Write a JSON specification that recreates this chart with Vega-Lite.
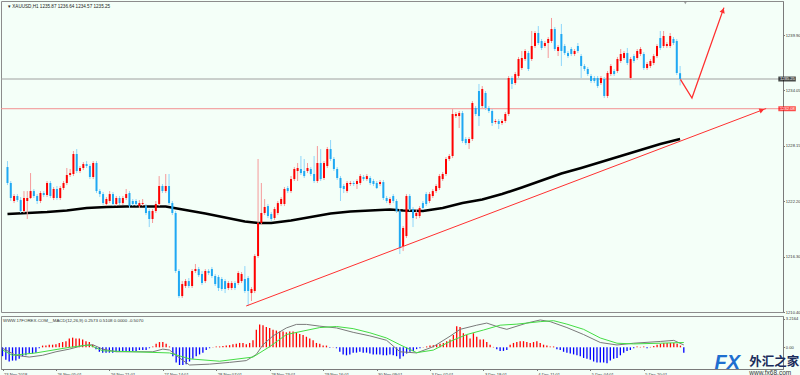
{
"$schema": "https://vega.github.io/schema/vega-lite/v6.json",
"background": "#f4fff8",
"padding": 0,
"spacing": 0,
"resolve": {"scale": {"color": "independent"}},
"config": {
 "view": {"stroke": "#8c8c8c", "strokeWidth": 1},
 "axis": {"labelFont": "Liberation Sans", "labelFontSize": 4.2, "labelColor": "#333333", "domainColor": "#7a7a7a", "tickColor": "#7a7a7a", "tickSize": 1.5, "grid": false, "title": null, "labelPadding": 0.8, "labelOverlap": false, "labelFlush": false}
},
"datasets": {
 "candles": [
{"i":0,"o":1225.86,"h":1226.50,"l":1223.94,"c":1224.16},
{"i":1,"o":1224.16,"h":1224.37,"l":1222.24,"c":1222.56},
{"i":2,"o":1222.24,"h":1222.98,"l":1222.02,"c":1222.77},
{"i":3,"o":1222.77,"h":1222.98,"l":1222.13,"c":1222.34},
{"i":4,"o":1222.34,"h":1222.66,"l":1220.96,"c":1221.17},
{"i":5,"o":1221.17,"h":1223.30,"l":1220.96,"c":1222.56},
{"i":6,"o":1222.24,"h":1223.30,"l":1220.32,"c":1222.56},
{"i":7,"o":1222.56,"h":1225.22,"l":1222.45,"c":1223.30},
{"i":8,"o":1223.30,"h":1223.52,"l":1222.56,"c":1222.77},
{"i":9,"o":1222.77,"h":1222.98,"l":1221.92,"c":1222.24},
{"i":10,"o":1222.24,"h":1223.30,"l":1222.02,"c":1223.09},
{"i":11,"o":1223.09,"h":1223.30,"l":1222.66,"c":1222.88},
{"i":12,"o":1222.88,"h":1224.37,"l":1222.66,"c":1224.16},
{"i":13,"o":1224.16,"h":1224.37,"l":1222.56,"c":1222.77},
{"i":14,"o":1222.56,"h":1223.73,"l":1222.34,"c":1223.52},
{"i":15,"o":1223.52,"h":1223.84,"l":1222.34,"c":1222.56},
{"i":16,"o":1222.56,"h":1223.84,"l":1222.34,"c":1223.62},
{"i":17,"o":1223.62,"h":1224.37,"l":1223.41,"c":1224.16},
{"i":18,"o":1224.16,"h":1225.76,"l":1223.94,"c":1225.01},
{"i":19,"o":1225.01,"h":1225.65,"l":1224.80,"c":1225.22},
{"i":20,"o":1225.12,"h":1227.57,"l":1224.90,"c":1227.25},
{"i":21,"o":1227.25,"h":1227.78,"l":1225.22,"c":1225.44},
{"i":22,"o":1225.44,"h":1225.97,"l":1225.22,"c":1225.76},
{"i":23,"o":1225.76,"h":1226.40,"l":1225.54,"c":1226.18},
{"i":24,"o":1226.18,"h":1226.50,"l":1225.76,"c":1225.97},
{"i":25,"o":1225.97,"h":1226.18,"l":1224.58,"c":1224.80},
{"i":26,"o":1224.80,"h":1226.50,"l":1224.58,"c":1226.29},
{"i":27,"o":1226.29,"h":1226.50,"l":1223.09,"c":1223.30},
{"i":28,"o":1223.30,"h":1223.52,"l":1222.66,"c":1222.98},
{"i":29,"o":1222.98,"h":1223.20,"l":1221.81,"c":1222.02},
{"i":30,"o":1221.92,"h":1222.66,"l":1221.70,"c":1222.45},
{"i":31,"o":1222.24,"h":1223.30,"l":1222.02,"c":1222.98},
{"i":32,"o":1222.98,"h":1223.20,"l":1221.70,"c":1221.92},
{"i":33,"o":1221.92,"h":1222.77,"l":1221.70,"c":1222.56},
{"i":34,"o":1222.56,"h":1222.77,"l":1221.81,"c":1222.02},
{"i":35,"o":1222.02,"h":1222.77,"l":1221.81,"c":1222.56},
{"i":36,"o":1222.56,"h":1223.52,"l":1222.34,"c":1222.98},
{"i":37,"o":1223.09,"h":1223.30,"l":1221.49,"c":1221.70},
{"i":38,"o":1222.24,"h":1222.45,"l":1221.70,"c":1221.92},
{"i":39,"o":1222.24,"h":1222.45,"l":1221.70,"c":1221.92},
{"i":40,"o":1221.70,"h":1222.34,"l":1221.49,"c":1222.02},
{"i":41,"o":1221.92,"h":1222.45,"l":1221.70,"c":1222.02},
{"i":42,"o":1221.70,"h":1221.92,"l":1220.74,"c":1220.96},
{"i":43,"o":1221.17,"h":1221.38,"l":1219.46,"c":1220.32},
{"i":44,"o":1220.32,"h":1221.38,"l":1219.89,"c":1221.17},
{"i":45,"o":1221.17,"h":1222.24,"l":1220.96,"c":1221.92},
{"i":46,"o":1221.92,"h":1224.90,"l":1221.70,"c":1223.84},
{"i":47,"o":1223.84,"h":1224.05,"l":1223.09,"c":1223.30},
{"i":48,"o":1223.30,"h":1225.12,"l":1223.09,"c":1223.84},
{"i":49,"o":1223.84,"h":1225.12,"l":1221.81,"c":1222.02},
{"i":50,"o":1222.02,"h":1222.24,"l":1220.74,"c":1220.96},
{"i":51,"o":1220.96,"h":1221.17,"l":1214.56,"c":1214.77},
{"i":52,"o":1214.77,"h":1214.98,"l":1211.89,"c":1212.10},
{"i":53,"o":1212.10,"h":1213.70,"l":1211.89,"c":1213.38},
{"i":54,"o":1213.17,"h":1213.92,"l":1212.96,"c":1213.70},
{"i":55,"o":1213.70,"h":1214.02,"l":1212.96,"c":1213.17},
{"i":56,"o":1213.17,"h":1214.98,"l":1212.96,"c":1214.77},
{"i":57,"o":1214.77,"h":1215.52,"l":1214.56,"c":1214.98},
{"i":58,"o":1214.98,"h":1215.20,"l":1214.13,"c":1214.34},
{"i":59,"o":1214.45,"h":1214.77,"l":1213.28,"c":1213.49},
{"i":60,"o":1213.70,"h":1214.98,"l":1213.49,"c":1214.77},
{"i":61,"o":1214.77,"h":1214.98,"l":1214.34,"c":1214.56},
{"i":62,"o":1214.98,"h":1215.20,"l":1214.02,"c":1214.24},
{"i":63,"o":1214.24,"h":1214.45,"l":1213.17,"c":1213.38},
{"i":64,"o":1214.13,"h":1214.34,"l":1212.64,"c":1212.96},
{"i":65,"o":1213.92,"h":1214.13,"l":1212.64,"c":1212.85},
{"i":66,"o":1213.70,"h":1213.92,"l":1212.42,"c":1212.85},
{"i":67,"o":1212.96,"h":1213.70,"l":1212.74,"c":1213.49},
{"i":68,"o":1212.96,"h":1213.70,"l":1212.74,"c":1213.49},
{"i":69,"o":1213.49,"h":1213.70,"l":1212.74,"c":1212.96},
{"i":70,"o":1213.49,"h":1214.77,"l":1213.28,"c":1214.56},
{"i":71,"o":1213.70,"h":1214.66,"l":1213.49,"c":1214.45},
{"i":72,"o":1213.92,"h":1215.30,"l":1212.42,"c":1212.64},
{"i":73,"o":1214.02,"h":1214.24,"l":1211.04,"c":1212.64},
{"i":74,"o":1212.42,"h":1213.06,"l":1211.57,"c":1212.85},
{"i":75,"o":1212.64,"h":1216.58,"l":1212.42,"c":1216.37},
{"i":76,"o":1216.37,"h":1226.72,"l":1216.16,"c":1219.89},
{"i":77,"o":1219.89,"h":1224.16,"l":1219.68,"c":1220.96},
{"i":78,"o":1220.96,"h":1222.45,"l":1220.74,"c":1221.60},
{"i":79,"o":1221.70,"h":1221.92,"l":1220.42,"c":1220.64},
{"i":80,"o":1220.85,"h":1221.06,"l":1220.10,"c":1220.32},
{"i":81,"o":1220.42,"h":1221.60,"l":1220.21,"c":1221.38},
{"i":82,"o":1220.96,"h":1222.24,"l":1220.74,"c":1222.02},
{"i":83,"o":1221.92,"h":1222.66,"l":1221.70,"c":1222.45},
{"i":84,"o":1221.92,"h":1223.73,"l":1221.70,"c":1223.52},
{"i":85,"o":1223.62,"h":1223.84,"l":1223.09,"c":1223.30},
{"i":86,"o":1223.30,"h":1224.90,"l":1223.09,"c":1224.58},
{"i":87,"o":1224.58,"h":1225.86,"l":1224.37,"c":1225.65},
{"i":88,"o":1225.44,"h":1226.29,"l":1224.37,"c":1225.76},
{"i":89,"o":1225.65,"h":1227.04,"l":1225.01,"c":1225.22},
{"i":90,"o":1225.44,"h":1226.72,"l":1224.69,"c":1224.90},
{"i":91,"o":1225.44,"h":1226.29,"l":1225.22,"c":1225.76},
{"i":92,"o":1225.65,"h":1225.86,"l":1224.90,"c":1225.12},
{"i":93,"o":1225.12,"h":1227.04,"l":1224.16,"c":1224.37},
{"i":94,"o":1224.37,"h":1228.10,"l":1224.16,"c":1226.29},
{"i":95,"o":1226.29,"h":1227.78,"l":1224.37,"c":1224.58},
{"i":96,"o":1224.69,"h":1226.50,"l":1224.48,"c":1226.29},
{"i":97,"o":1225.97,"h":1228.00,"l":1225.76,"c":1227.78},
{"i":98,"o":1227.78,"h":1228.74,"l":1226.50,"c":1226.72},
{"i":99,"o":1226.72,"h":1226.93,"l":1225.44,"c":1225.65},
{"i":100,"o":1225.65,"h":1225.86,"l":1224.48,"c":1224.69},
{"i":101,"o":1224.69,"h":1224.90,"l":1222.24,"c":1223.62},
{"i":102,"o":1223.84,"h":1224.05,"l":1223.09,"c":1223.52},
{"i":103,"o":1223.30,"h":1224.37,"l":1223.09,"c":1224.16},
{"i":104,"o":1224.05,"h":1224.37,"l":1223.84,"c":1224.16},
{"i":105,"o":1224.16,"h":1224.37,"l":1223.84,"c":1224.05},
{"i":106,"o":1224.05,"h":1224.58,"l":1223.52,"c":1224.37},
{"i":107,"o":1224.16,"h":1225.12,"l":1223.94,"c":1224.90},
{"i":108,"o":1224.80,"h":1225.01,"l":1224.37,"c":1224.58},
{"i":109,"o":1224.58,"h":1225.12,"l":1224.37,"c":1224.90},
{"i":110,"o":1224.69,"h":1224.90,"l":1223.94,"c":1224.16},
{"i":111,"o":1224.37,"h":1224.58,"l":1223.84,"c":1224.05},
{"i":112,"o":1224.16,"h":1224.37,"l":1223.52,"c":1223.62},
{"i":113,"o":1224.05,"h":1224.48,"l":1223.84,"c":1224.26},
{"i":114,"o":1224.26,"h":1224.48,"l":1222.34,"c":1222.56},
{"i":115,"o":1222.56,"h":1222.77,"l":1222.02,"c":1222.24},
{"i":116,"o":1222.02,"h":1222.66,"l":1221.81,"c":1222.45},
{"i":117,"o":1222.77,"h":1222.98,"l":1222.02,"c":1222.24},
{"i":118,"o":1222.24,"h":1222.45,"l":1220.96,"c":1221.17},
{"i":119,"o":1221.17,"h":1221.38,"l":1216.58,"c":1217.22},
{"i":120,"o":1217.44,"h":1219.57,"l":1216.90,"c":1219.36},
{"i":121,"o":1218.50,"h":1222.98,"l":1218.29,"c":1222.77},
{"i":122,"o":1222.77,"h":1222.98,"l":1221.17,"c":1221.38},
{"i":123,"o":1221.38,"h":1221.60,"l":1219.46,"c":1220.42},
{"i":124,"o":1220.64,"h":1221.38,"l":1220.32,"c":1220.96},
{"i":125,"o":1220.64,"h":1221.70,"l":1220.42,"c":1221.49},
{"i":126,"o":1222.02,"h":1222.24,"l":1221.28,"c":1221.49},
{"i":127,"o":1222.98,"h":1223.20,"l":1221.70,"c":1221.92},
{"i":128,"o":1222.24,"h":1223.20,"l":1222.02,"c":1222.98},
{"i":129,"o":1222.77,"h":1223.52,"l":1222.56,"c":1223.30},
{"i":130,"o":1223.30,"h":1224.05,"l":1223.09,"c":1223.84},
{"i":131,"o":1223.62,"h":1225.12,"l":1223.41,"c":1224.90},
{"i":132,"o":1224.58,"h":1225.33,"l":1224.37,"c":1225.12},
{"i":133,"o":1225.12,"h":1226.93,"l":1224.90,"c":1226.72},
{"i":134,"o":1226.72,"h":1227.25,"l":1226.50,"c":1227.04},
{"i":135,"o":1227.04,"h":1232.05,"l":1226.82,"c":1231.52},
{"i":136,"o":1231.30,"h":1231.73,"l":1231.09,"c":1231.52},
{"i":137,"o":1231.30,"h":1231.84,"l":1230.02,"c":1231.62},
{"i":138,"o":1231.62,"h":1231.84,"l":1228.42,"c":1228.64},
{"i":139,"o":1228.85,"h":1229.06,"l":1228.21,"c":1228.42},
{"i":140,"o":1228.42,"h":1229.06,"l":1227.78,"c":1228.85},
{"i":141,"o":1228.85,"h":1232.90,"l":1228.64,"c":1232.69},
{"i":142,"o":1232.16,"h":1232.37,"l":1231.30,"c":1231.52},
{"i":143,"o":1233.97,"h":1234.72,"l":1230.24,"c":1231.30},
{"i":144,"o":1232.37,"h":1234.50,"l":1232.16,"c":1234.18},
{"i":145,"o":1233.76,"h":1233.97,"l":1231.94,"c":1232.16},
{"i":146,"o":1232.16,"h":1232.37,"l":1231.62,"c":1231.84},
{"i":147,"o":1231.84,"h":1232.05,"l":1230.24,"c":1230.56},
{"i":148,"o":1230.66,"h":1230.98,"l":1230.45,"c":1230.77},
{"i":149,"o":1230.77,"h":1230.98,"l":1229.92,"c":1230.45},
{"i":150,"o":1230.56,"h":1230.98,"l":1230.34,"c":1230.77},
{"i":151,"o":1230.77,"h":1231.73,"l":1230.56,"c":1231.52},
{"i":152,"o":1231.52,"h":1235.57,"l":1231.30,"c":1235.36},
{"i":153,"o":1235.36,"h":1235.57,"l":1234.18,"c":1234.72},
{"i":154,"o":1234.82,"h":1236.00,"l":1234.61,"c":1235.78},
{"i":155,"o":1235.57,"h":1237.60,"l":1235.36,"c":1237.38},
{"i":156,"o":1236.42,"h":1238.24,"l":1236.21,"c":1237.49},
{"i":157,"o":1237.38,"h":1238.45,"l":1237.17,"c":1238.24},
{"i":158,"o":1238.02,"h":1238.24,"l":1236.10,"c":1236.32},
{"i":159,"o":1237.38,"h":1240.37,"l":1237.17,"c":1238.77},
{"i":160,"o":1238.77,"h":1240.37,"l":1238.56,"c":1240.16},
{"i":161,"o":1240.16,"h":1240.90,"l":1238.88,"c":1239.09},
{"i":162,"o":1239.30,"h":1239.52,"l":1238.34,"c":1238.56},
{"i":163,"o":1238.77,"h":1239.30,"l":1238.56,"c":1239.09},
{"i":164,"o":1239.09,"h":1239.73,"l":1237.49,"c":1239.52},
{"i":165,"o":1239.30,"h":1241.76,"l":1239.09,"c":1240.58},
{"i":166,"o":1240.58,"h":1240.80,"l":1238.24,"c":1238.45},
{"i":167,"o":1238.24,"h":1238.88,"l":1237.70,"c":1238.66},
{"i":168,"o":1240.05,"h":1241.12,"l":1236.64,"c":1238.24},
{"i":169,"o":1238.77,"h":1238.98,"l":1237.81,"c":1238.02},
{"i":170,"o":1238.02,"h":1238.24,"l":1237.49,"c":1237.70},
{"i":171,"o":1238.45,"h":1238.66,"l":1237.70,"c":1237.92},
{"i":172,"o":1237.92,"h":1238.45,"l":1237.70,"c":1238.24},
{"i":173,"o":1238.77,"h":1239.09,"l":1238.02,"c":1238.24},
{"i":174,"o":1237.70,"h":1237.92,"l":1235.36,"c":1236.64},
{"i":175,"o":1236.64,"h":1236.85,"l":1236.10,"c":1236.32},
{"i":176,"o":1236.32,"h":1236.53,"l":1235.57,"c":1235.78},
{"i":177,"o":1235.57,"h":1235.78,"l":1234.82,"c":1235.04},
{"i":178,"o":1235.36,"h":1235.57,"l":1234.82,"c":1235.04},
{"i":179,"o":1235.36,"h":1235.57,"l":1234.29,"c":1234.50},
{"i":180,"o":1234.82,"h":1235.57,"l":1234.61,"c":1235.36},
{"i":181,"o":1235.25,"h":1235.46,"l":1233.22,"c":1233.44},
{"i":182,"o":1233.44,"h":1236.10,"l":1233.22,"c":1235.89},
{"i":183,"o":1235.78,"h":1236.85,"l":1235.57,"c":1236.64},
{"i":184,"o":1236.10,"h":1236.32,"l":1235.57,"c":1235.78},
{"i":185,"o":1236.10,"h":1237.60,"l":1235.89,"c":1237.38},
{"i":186,"o":1237.17,"h":1238.45,"l":1236.96,"c":1237.92},
{"i":187,"o":1237.49,"h":1238.24,"l":1237.28,"c":1238.02},
{"i":188,"o":1238.02,"h":1238.56,"l":1236.74,"c":1236.96},
{"i":189,"o":1235.36,"h":1237.60,"l":1235.14,"c":1237.38},
{"i":190,"o":1237.70,"h":1237.92,"l":1236.96,"c":1237.17},
{"i":191,"o":1237.49,"h":1238.45,"l":1237.28,"c":1238.24},
{"i":192,"o":1237.92,"h":1238.66,"l":1237.70,"c":1238.45},
{"i":193,"o":1237.92,"h":1238.13,"l":1236.21,"c":1236.42},
{"i":194,"o":1236.42,"h":1237.06,"l":1236.21,"c":1236.85},
{"i":195,"o":1236.64,"h":1237.38,"l":1236.42,"c":1237.17},
{"i":196,"o":1236.96,"h":1237.92,"l":1236.74,"c":1237.70},
{"i":197,"o":1237.70,"h":1238.98,"l":1237.49,"c":1238.77},
{"i":198,"o":1239.62,"h":1240.37,"l":1238.34,"c":1238.56},
{"i":199,"o":1238.77,"h":1240.37,"l":1238.56,"c":1239.84},
{"i":200,"o":1238.77,"h":1239.20,"l":1238.56,"c":1238.98},
{"i":201,"o":1238.77,"h":1240.16,"l":1238.56,"c":1239.84},
{"i":202,"o":1239.52,"h":1239.73,"l":1238.88,"c":1239.09},
{"i":203,"o":1239.30,"h":1239.52,"l":1235.68,"c":1235.89},
{"i":204,"o":1235.87,"h":1236.64,"l":1234.57,"c":1235.25}
 ],
 "ma": [
{"i":0,"v":1220.85},{"i":6,"v":1220.96},{"i":12,"v":1221.06},{"i":18,"v":1221.22},{"i":24,"v":1221.49},{"i":30,"v":1221.60},{"i":36,"v":1221.65},{"i":42,"v":1221.65},{"i":48,"v":1221.65},{"i":54,"v":1221.28},{"i":60,"v":1220.90},{"i":66,"v":1220.48},{"i":72,"v":1220.05},{"i":76,"v":1219.89},{"i":80,"v":1219.89},{"i":86,"v":1220.16},{"i":92,"v":1220.53},{"i":98,"v":1220.90},{"i":104,"v":1221.12},{"i":110,"v":1221.22},{"i":116,"v":1221.33},{"i":120,"v":1221.22},{"i":126,"v":1221.17},{"i":132,"v":1221.49},{"i":138,"v":1222.02},{"i":144,"v":1222.40},{"i":150,"v":1222.98},{"i":156,"v":1223.68},{"i":162,"v":1224.42},{"i":168,"v":1225.17},{"i":174,"v":1225.76},{"i":180,"v":1226.40},{"i":186,"v":1227.04},{"i":192,"v":1227.68},{"i":198,"v":1228.32},{"i":204,"v":1228.85}
 ],
 "levels": [
{"p":1235.25,"lab":"1235.25","k":"bid"},
{"p":1232.08,"lab":"1232.08","k":"line"}
 ],
 "trend": [{"i":72.4,"p":1211.04},{"i":230.1,"p":1232.10}],
 "forecast": [{"i":204.1,"p":1235.22},{"i":207.6,"p":1233.22},{"i":217.3,"p":1242.86}],
 "arrows": [{"i":228.8,"p":1231.93,"a":69.4},{"i":217.0,"p":1242.56,"a":19.7}],
 "hist": [
{"i":0,"v":-1.0},{"i":1,"v":-1.4},{"i":2,"v":-1.6},{"i":3,"v":-1.5},{"i":4,"v":-1.5},{"i":5,"v":-1.3},{"i":6,"v":-1.0},{"i":7,"v":-0.9},{"i":8,"v":-0.7},{"i":9,"v":-0.7},{"i":10,"v":-0.6},{"i":11,"v":-0.1},{"i":12,"v":0.2},{"i":13,"v":0.2},{"i":14,"v":0.3},{"i":15,"v":0.3},{"i":16,"v":0.35},{"i":17,"v":0.5},{"i":18,"v":0.6},{"i":19,"v":0.7},{"i":20,"v":1.0},{"i":21,"v":1.1},{"i":22,"v":1.0},{"i":23,"v":1.0},{"i":24,"v":0.9},{"i":25,"v":0.7},{"i":26,"v":0.6},{"i":27,"v":0.3},{"i":28,"v":-0.2},{"i":29,"v":-0.5},{"i":30,"v":-0.6},{"i":31,"v":-0.6},{"i":32,"v":-0.6},{"i":33,"v":-0.6},{"i":34,"v":-0.5},{"i":35,"v":-0.5},{"i":36,"v":-0.4},{"i":37,"v":-0.5},{"i":38,"v":-0.5},{"i":39,"v":-0.4},{"i":40,"v":-0.4},{"i":41,"v":-0.3},{"i":42,"v":-0.3},{"i":43,"v":-0.3},{"i":44,"v":-0.1},{"i":45,"v":0.1},{"i":46,"v":0.4},{"i":47,"v":0.6},{"i":48,"v":0.6},{"i":49,"v":0.4},{"i":50,"v":0.1},{"i":51,"v":-1.0},{"i":52,"v":-1.7},{"i":53,"v":-2.0},{"i":54,"v":-2.0},{"i":55,"v":-1.9},{"i":56,"v":-1.6},{"i":57,"v":-1.3},{"i":58,"v":-1.0},{"i":59,"v":-0.8},{"i":60,"v":-0.6},{"i":61,"v":-0.3},{"i":62,"v":-0.1},{"i":63,"v":0.05},{"i":64,"v":0.1},{"i":65,"v":0.1},{"i":66,"v":0.15},{"i":67,"v":0.2},{"i":68,"v":0.25},{"i":69,"v":0.35},{"i":70,"v":0.4},{"i":71,"v":0.5},{"i":72,"v":0.5},{"i":73,"v":0.35},{"i":74,"v":0.5},{"i":75,"v":0.8},{"i":76,"v":2.0},{"i":77,"v":2.6},{"i":78,"v":2.5},{"i":79,"v":2.3},{"i":80,"v":2.2},{"i":81,"v":2.0},{"i":82,"v":1.9},{"i":83,"v":1.8},{"i":84,"v":1.8},{"i":85,"v":1.7},{"i":86,"v":1.8},{"i":87,"v":1.8},{"i":88,"v":1.7},{"i":89,"v":1.5},{"i":90,"v":1.4},{"i":91,"v":1.2},{"i":92,"v":1.0},{"i":93,"v":0.8},{"i":94,"v":0.5},{"i":95,"v":0.4},{"i":96,"v":0.2},{"i":97,"v":0.2},{"i":98,"v":-0.05},{"i":99,"v":0.05},{"i":100,"v":-0.1},{"i":101,"v":-0.5},{"i":102,"v":-0.8},{"i":103,"v":-0.9},{"i":104,"v":-0.8},{"i":105,"v":-0.6},{"i":106,"v":-0.6},{"i":107,"v":-0.5},{"i":108,"v":-0.6},{"i":109,"v":-0.6},{"i":110,"v":-0.7},{"i":111,"v":-0.8},{"i":112,"v":-0.8},{"i":113,"v":-0.8},{"i":114,"v":-0.9},{"i":115,"v":-0.9},{"i":116,"v":-0.8},{"i":117,"v":-0.9},{"i":118,"v":-1.0},{"i":119,"v":-1.3},{"i":120,"v":-1.0},{"i":121,"v":-0.7},{"i":122,"v":-0.5},{"i":123,"v":-0.4},{"i":124,"v":-0.2},{"i":125,"v":-0.1},{"i":126,"v":0.05},{"i":127,"v":0.1},{"i":128,"v":0.2},{"i":129,"v":0.25},{"i":130,"v":0.3},{"i":131,"v":0.4},{"i":132,"v":0.5},{"i":133,"v":0.7},{"i":134,"v":0.9},{"i":135,"v":1.4},{"i":136,"v":2.4},{"i":137,"v":2.3},{"i":138,"v":1.6},{"i":139,"v":1.4},{"i":140,"v":1.0},{"i":141,"v":1.6},{"i":142,"v":1.2},{"i":143,"v":0.9},{"i":144,"v":0.9},{"i":145,"v":0.6},{"i":146,"v":0.3},{"i":147,"v":0.05},{"i":148,"v":-0.2},{"i":149,"v":-0.4},{"i":150,"v":-0.4},{"i":151,"v":-0.3},{"i":152,"v":0.3},{"i":153,"v":0.5},{"i":154,"v":0.6},{"i":155,"v":0.7},{"i":156,"v":0.7},{"i":157,"v":0.6},{"i":158,"v":0.5},{"i":159,"v":0.6},{"i":160,"v":0.7},{"i":161,"v":0.5},{"i":162,"v":0.3},{"i":163,"v":0.2},{"i":164,"v":0.1},{"i":165,"v":0.1},{"i":166,"v":-0.2},{"i":167,"v":-0.3},{"i":168,"v":-0.5},{"i":169,"v":-0.6},{"i":170,"v":-0.7},{"i":171,"v":-0.8},{"i":172,"v":-0.9},{"i":173,"v":-1.0},{"i":174,"v":-1.2},{"i":175,"v":-1.3},{"i":176,"v":-1.4},{"i":177,"v":-1.6},{"i":178,"v":-1.7},{"i":179,"v":-1.7},{"i":180,"v":-1.7},{"i":181,"v":-1.8},{"i":182,"v":-1.5},{"i":183,"v":-1.3},{"i":184,"v":-1.2},{"i":185,"v":-0.9},{"i":186,"v":-0.6},{"i":187,"v":-0.4},{"i":188,"v":-0.3},{"i":189,"v":-0.1},{"i":190,"v":0.1},{"i":191,"v":0.05},{"i":192,"v":0.1},{"i":193,"v":-0.1},{"i":194,"v":0.05},{"i":195,"v":0.15},{"i":196,"v":0.3},{"i":197,"v":0.4},{"i":198,"v":0.5},{"i":199,"v":0.5},{"i":200,"v":0.5},{"i":201,"v":0.5},{"i":202,"v":0.4},{"i":203,"v":0.2},{"i":204,"v":-0.6}
 ],
 "macd": [
{"i":0,"v":-0.1},{"i":4,"v":-0.9},{"i":8,"v":-1.1},{"i":12,"v":-0.9},{"i":16,"v":-0.5},{"i":20,"v":-0.2},{"i":24,"v":0.2},{"i":27,"v":0.3},{"i":30,"v":-0.2},{"i":34,"v":-0.5},{"i":40,"v":-0.5},{"i":45,"v":-0.5},{"i":48,"v":-0.2},{"i":50,"v":-0.3},{"i":53,"v":-1.2},{"i":56,"v":-2.0},{"i":62,"v":-1.9},{"i":68,"v":-1.7},{"i":73,"v":-1.5},{"i":76,"v":-0.8},{"i":78,"v":0.3},{"i":81,"v":1.3},{"i":85,"v":2.2},{"i":88,"v":2.6},{"i":91,"v":2.6},{"i":95,"v":2.4},{"i":100,"v":2.2},{"i":105,"v":1.7},{"i":110,"v":1.3},{"i":115,"v":0.8},{"i":119,"v":-0.5},{"i":124,"v":-0.63},{"i":129,"v":0.08},{"i":134,"v":1.26},{"i":137,"v":2.04},{"i":142,"v":2.51},{"i":145,"v":2.75},{"i":149,"v":2.24},{"i":151,"v":2.04},{"i":157,"v":2.75},{"i":161,"v":3.1},{"i":164,"v":2.91},{"i":169,"v":2.24},{"i":174,"v":1.45},{"i":179,"v":0.55},{"i":184,"v":0.27},{"i":189,"v":0.47},{"i":197,"v":0.67},{"i":201,"v":0.79},{"i":204,"v":0.27}
 ],
 "signal": [
{"i":0,"v":-0.3},{"i":3,"v":-0.9},{"i":10,"v":-0.63},{"i":20,"v":0.0},{"i":26,"v":0.27},{"i":30,"v":-0.39},{"i":40,"v":-0.51},{"i":50,"v":-0.63},{"i":56,"v":-1.3},{"i":65,"v":-1.57},{"i":75,"v":-1.1},{"i":80,"v":0.08},{"i":85,"v":1.45},{"i":90,"v":1.85},{"i":95,"v":2.24},{"i":100,"v":2.36},{"i":105,"v":2.12},{"i":110,"v":1.65},{"i":115,"v":1.06},{"i":119,"v":0.3},{"i":124,"v":-0.6},{"i":129,"v":-0.31},{"i":134,"v":0.67},{"i":139,"v":1.45},{"i":144,"v":1.96},{"i":149,"v":2.51},{"i":154,"v":2.63},{"i":161,"v":2.91},{"i":165,"v":3.02},{"i":169,"v":2.63},{"i":174,"v":2.04},{"i":179,"v":1.06},{"i":184,"v":0.47},{"i":189,"v":0.39},{"i":197,"v":0.47},{"i":204,"v":0.55}
 ]
},
"vconcat": [
 {
  "width": 782, "height": 311,
  "layer": [
   {
    "data": {"name": "levels"},
    "mark": {"type": "rule", "strokeWidth": 1},
    "encoding": {
     "y": {"field": "p", "type": "quantitative", "scale": {"domain": [1210.4, 1243.57], "nice": false, "zero": false},
      "axis": {"orient": "right", "labelOverlap": false, "labelFontSize": 4.1, "values": [1210.4,1211.9,1213.35,1214.85,1216.3,1217.8,1219.25,1220.75,1222.2,1223.7,1225.15,1226.65,1228.15,1229.6,1231.1,1232.55,1234.05,1235.5,1237,1238.45,1239.9,1241.4,1242.9], "labelExpr": "format(datum.value, '.2f')"}},
     "color": {"condition": {"test": "datum.k == 'bid'", "value": "#a0a0a0"}, "value": "#f29090"}
    }
   },
   {
    "data": {"name": "ma"},
    "mark": {"type": "line", "color": "#000000", "strokeWidth": 2.6},
    "encoding": {
     "x": {"field": "i", "type": "quantitative", "scale": {"domain": [-0.45, 233.7], "nice": false, "zero": false}, "axis": null},
     "y": {"field": "v", "type": "quantitative"}
    }
   },
   {
    "data": {"name": "candles"},
    "mark": {"type": "rule", "strokeWidth": 1},
    "encoding": {
     "x": {"field": "i", "type": "quantitative", "axis": null},
     "y": {"field": "l", "type": "quantitative"},
     "y2": {"field": "h"},
     "color": {"condition": {"test": "datum.c >= datum.o", "value": "#f59a9a"}, "value": "#8fd6fa"}
    }
   },
   {
    "data": {"name": "candles"},
    "mark": {"type": "bar", "size": 2},
    "encoding": {
     "x": {"field": "i", "type": "quantitative", "axis": null},
     "y": {"field": "o", "type": "quantitative"},
     "y2": {"field": "c"},
     "color": {"condition": {"test": "datum.c >= datum.o", "value": "#ff0000"}, "value": "#1fa8f3"}
    }
   },
   {
    "data": {"name": "trend"},
    "mark": {"type": "line", "color": "#ff3030", "strokeWidth": 1},
    "encoding": {
     "x": {"field": "i", "type": "quantitative", "axis": null},
     "y": {"field": "p", "type": "quantitative"}
    }
   },
   {
    "data": {"name": "forecast"},
    "mark": {"type": "line", "color": "#ff3030", "strokeWidth": 1.3},
    "encoding": {
     "x": {"field": "i", "type": "quantitative", "axis": null},
     "y": {"field": "p", "type": "quantitative"}
    }
   },
   {
    "data": {"name": "arrows"},
    "mark": {"type": "point", "shape": "triangle-up", "filled": true, "color": "#ff3030", "size": 30, "opacity": 1},
    "encoding": {
     "x": {"field": "i", "type": "quantitative", "axis": null},
     "y": {"field": "p", "type": "quantitative"},
     "angle": {"field": "a", "type": "quantitative", "scale": null}
    }
   },
   {
    "data": {"name": "levels"},
    "mark": {"type": "tick", "orient": "horizontal", "thickness": 5, "size": 17.5},
    "encoding": {
     "x": {"datum": 236.45, "type": "quantitative", "axis": null},
     "y": {"field": "p", "type": "quantitative"},
     "color": {"condition": {"test": "datum.k == 'bid'", "value": "#000000"}, "value": "#ff0000"}
    }
   },
   {
    "data": {"name": "levels"},
    "mark": {"type": "text", "align": "left", "baseline": "middle", "dx": 2, "font": "Liberation Sans", "fontSize": 4.1, "color": "#ffffff"},
    "encoding": {
     "x": {"datum": 233.7, "type": "quantitative", "axis": null},
     "y": {"field": "p", "type": "quantitative"},
     "text": {"field": "lab"}
    }
   },
   {
    "data": {"values": [{"t": "▾ XAUUSD,H1  1235.87 1236.64 1234.57 1235.25"}]},
    "mark": {"type": "text", "align": "left", "baseline": "top", "dx": 2, "dy": 3, "font": "Liberation Sans", "fontSize": 4.6, "color": "#222222"},
    "encoding": {
     "x": {"datum": -0.45, "type": "quantitative", "axis": null},
     "y": {"datum": 1243.57, "type": "quantitative"},
     "text": {"field": "t"}
    }
   },
   {
    "data": {"values": [{"i": 205.6, "p": 1243.35}]},
    "mark": {"type": "point", "shape": "triangle-down", "filled": true, "color": "#777777", "size": 8},
    "encoding": {
     "x": {"field": "i", "type": "quantitative", "axis": null},
     "y": {"field": "p", "type": "quantitative"}
    }
   }
  ]
 },
 {
  "width": 782, "height": 53,
  "layer": [
   {
    "data": {"name": "hist"},
    "mark": {"type": "rule", "strokeWidth": 1.3},
    "encoding": {
     "x": {"field": "i", "type": "quantitative", "scale": {"domain": [-0.45, 233.7], "nice": false, "zero": false},
      "axis": {"labelOverlap": false, "values": [0,8,16,24,32,40,48,56,64,72,80,88,96,104,112,120,128,136,144,152,160,168,176,184,192,200], "labelAlign": "left", "labelBaseline": "top", "labelPadding": 1.5, "labelOffset": 1, "labelFontSize": 4.1,
       "labelExpr": "['23 Nov 2018','23 Nov 17:01','26 Nov 05:01','26 Nov 13:01','26 Nov 21:01','27 Nov 06:01','27 Nov 14:01','27 Nov 22:01','28 Nov 07:01','28 Nov 15:01','28 Nov 23:01','29 Nov 08:01','29 Nov 16:01','30 Nov 01:01','30 Nov 09:01','30 Nov 17:01','3 Dec 02:01','3 Dec 10:01','3 Dec 18:01','4 Dec 03:01','4 Dec 11:01','4 Dec 19:01','5 Dec 04:01','5 Dec 12:01','5 Dec 20:01','6 Dec 05:01'][round(datum.value/8)]"}},
     "y": {"field": "v", "type": "quantitative", "scale": {"domain": [-2.45, 3.55], "nice": false, "zero": false},
      "axis": {"orient": "right", "labelOverlap": false, "labelFontSize": 4.1, "values": [0, 3.2164], "labelExpr": "datum.value == 0 ? '0.00' : '3.2164'"}},
     "y2": {"datum": 0},
     "color": {"condition": {"test": "datum.v >= 0", "value": "#ff0000"}, "value": "#0000ff"}
    }
   },
   {
    "data": {"name": "macd"},
    "mark": {"type": "line", "strokeWidth": 1, "color": "#7a7a7a"},
    "encoding": {
     "x": {"field": "i", "type": "quantitative"},
     "y": {"field": "v", "type": "quantitative"}
    }
   },
   {
    "data": {"name": "signal"},
    "mark": {"type": "line", "strokeWidth": 1, "color": "#44dd44"},
    "encoding": {
     "x": {"field": "i", "type": "quantitative"},
     "y": {"field": "v", "type": "quantitative"}
    }
   },
   {
    "data": {"values": [{"t": "WWW.17FOREX.COM__MACD(12,26,9) 0.2573 0.5108 0.0000 -0.5070"}]},
    "mark": {"type": "text", "align": "left", "baseline": "top", "dx": 2, "dy": 3, "font": "Liberation Sans", "fontSize": 4.4, "color": "#333333"},
    "encoding": {
     "x": {"datum": -0.45, "type": "quantitative"},
     "y": {"datum": 3.55, "type": "quantitative"},
     "text": {"field": "t"}
    }
   },
   {
    "data": {"values": [{"t": "FX", "i": 213.2, "v": -2.45}]},
    "mark": {"type": "text", "align": "left", "baseline": "alphabetic", "dy": 0, "font": "Liberation Sans", "fontWeight": "bold", "fontStyle": "italic", "fontSize": 20, "color": "#1e6fd0"},
    "encoding": {
     "x": {"field": "i", "type": "quantitative"},
     "y": {"field": "v", "type": "quantitative"},
     "text": {"field": "t"}
    }
   },
   {
    "data": {"values": [{"t": "外汇之家", "i": 223.6, "v": -2.45}]},
    "mark": {"type": "text", "align": "left", "baseline": "alphabetic", "dy": -3, "font": "Noto Sans CJK SC", "fontWeight": "bold", "fontSize": 12.5, "color": "#1b2d5c"},
    "encoding": {
     "x": {"field": "i", "type": "quantitative"},
     "y": {"field": "v", "type": "quantitative"},
     "text": {"field": "t"}
    }
   },
   {
    "data": {"values": [{"t": "www.fx68.com", "i": 223.6, "v": -2.45}]},
    "mark": {"type": "text", "align": "left", "baseline": "alphabetic", "dy": 6, "font": "Liberation Sans", "fontSize": 6.5, "color": "#333333"},
    "encoding": {
     "x": {"field": "i", "type": "quantitative"},
     "y": {"field": "v", "type": "quantitative"},
     "text": {"field": "t"}
    }
   }
  ]
 }
]
}
